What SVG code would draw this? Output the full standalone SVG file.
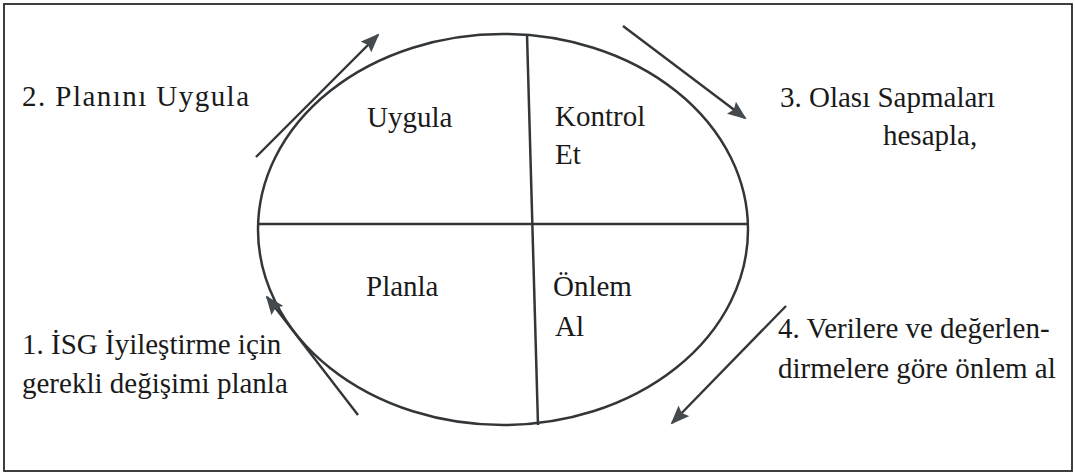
<svg xmlns="http://www.w3.org/2000/svg" width="1075" height="473" viewBox="0 0 1075 473">
<defs>
<marker id="ah" markerWidth="19" markerHeight="15" refX="17" refY="7.5" orient="auto" markerUnits="userSpaceOnUse" viewBox="0 0 19 15">
<path d="M0,0 L19,7.5 L0,15 L3,7.5 z" fill="#454a4e"/>
</marker>
</defs>
<rect x="0" y="0" width="1075" height="473" fill="#fff"/>
<rect x="4" y="4" width="1068" height="467" fill="none" stroke="#2a2a2a" stroke-width="1.8"/>
<g id="cycle" stroke="#333639" stroke-width="2.5" fill="none">
<ellipse cx="503" cy="229.5" rx="245" ry="195.5"/>
<line x1="258" y1="224" x2="748" y2="224"/>
<line x1="527" y1="34" x2="538" y2="425"/>
</g>
<g id="uygula"><text x="367" y="127" fill="#1a1a1a" font-family="Liberation Serif" font-size="29">Uygula</text></g>
<g id="kontrol"><text x="555" y="126" fill="#1a1a1a" font-family="Liberation Serif" font-size="29">Kontrol</text><text x="555" y="164" fill="#1a1a1a" font-family="Liberation Serif" font-size="29">Et</text></g>
<g id="planla"><text x="366" y="296" fill="#1a1a1a" font-family="Liberation Serif" font-size="29">Planla</text></g>
<g id="onlem"><text x="553" y="296" fill="#1a1a1a" font-family="Liberation Serif" font-size="29">Önlem</text><text x="555" y="336" fill="#1a1a1a" font-family="Liberation Serif" font-size="29">Al</text></g>
<g id="step2"><text x="22" y="106" fill="#1a1a1a" font-family="Liberation Serif" font-size="29" textLength="227" lengthAdjust="spacing">2. Planını Uygula</text></g>
<g id="step3"><text x="780" y="107" fill="#1a1a1a" font-family="Liberation Serif" font-size="29">3. Olası Sapmaları</text><text x="883" y="145" fill="#1a1a1a" font-family="Liberation Serif" font-size="29">hesapla,</text></g>
<g id="step1"><text x="22" y="354" fill="#1a1a1a" font-family="Liberation Serif" font-size="29">1. İSG İyileştirme için</text><text x="22" y="393" fill="#1a1a1a" font-family="Liberation Serif" font-size="29">gerekli değişimi planla</text></g>
<g id="step4"><text x="778" y="338" fill="#1a1a1a" font-family="Liberation Serif" font-size="29">4. Verilere ve değerlen-</text><text x="778" y="378" fill="#1a1a1a" font-family="Liberation Serif" font-size="29">dirmelere göre önlem al</text></g>
<g id="connectors" stroke="#333639" stroke-width="2.4" fill="none" marker-end="url(#ah)">
<line x1="256" y1="157" x2="378" y2="35"/>
<line x1="623" y1="26" x2="745" y2="118"/>
<line x1="786" y1="306" x2="672" y2="423"/>
<line x1="358" y1="415" x2="267" y2="297"/>
</g>
</svg>
